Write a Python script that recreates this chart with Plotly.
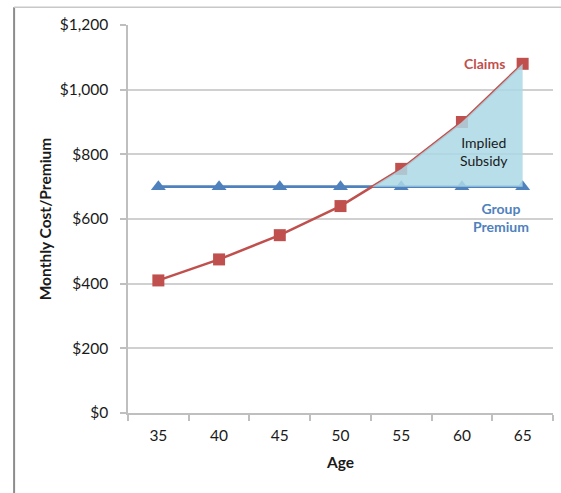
import plotly.graph_objects as go

# Monthly claims cost vs. flat group premium by age
ages = [35, 40, 45, 50, 55, 60, 65]
claims = [410, 475, 550, 640, 755, 900, 1080]
group_premium = [700, 700, 700, 700, 700, 700, 700]
y_ticks = [0, 200, 400, 600, 800, 1000, 1200]

RED = "#c0504d"
BLUE = "#4f81bd"
FONT = "Lato, 'Open Sans', sans-serif"

# Find where claims first rise above the premium (linear interpolation)
cross_x, cross_i = None, None
for i in range(1, len(ages)):
    d0 = claims[i - 1] - group_premium[i - 1]
    d1 = claims[i] - group_premium[i]
    if d0 < 0 <= d1:
        t = -d0 / (d1 - d0)
        cross_x = ages[i - 1] + t * (ages[i] - ages[i - 1])
        cross_y = group_premium[i - 1] + t * (group_premium[i] - group_premium[i - 1])
        cross_i = i
        break

sub_x = [cross_x] + ages[cross_i:] + ages[cross_i:][::-1] + [cross_x]
sub_y = [cross_y] + claims[cross_i:] + group_premium[cross_i:][::-1] + [cross_y]

fig = go.Figure()
fig.add_trace(go.Scatter(
    x=ages, y=group_premium, mode="lines+markers", name="Group Premium",
    line=dict(color=BLUE, width=2.8),
    marker=dict(symbol="triangle-up", size=13, color=BLUE),
))
fig.add_trace(go.Scatter(
    x=ages, y=claims, mode="lines+markers", name="Claims",
    line=dict(color=RED, width=2.5),
    marker=dict(symbol="square", size=12, color=RED),
))
# Implied subsidy region between the two curves
fig.add_trace(go.Scatter(
    x=sub_x, y=sub_y, mode="lines", fill="toself",
    fillcolor="rgba(172,216,229,0.85)", line=dict(width=0),
    hoverinfo="skip",
))

fig.add_annotation(x=63.7, y=1080, text="<b>Claims</b>", showarrow=False,
                   xanchor="right", font=dict(color=RED, size=14, family=FONT))
fig.add_annotation(x=61.8, y=808, text="Implied<br>Subsidy", showarrow=False,
                   font=dict(color="#1a1a1a", size=14, family=FONT))
fig.add_annotation(x=63.2, y=606, text="<b>Group<br>Premium</b>", showarrow=False,
                   font=dict(color=BLUE, size=14, family=FONT))

# Outer chart frame (left and top edges)
fig.add_shape(type="line", xref="paper", yref="paper",
              x0=-0.268, x1=-0.268, y0=-0.3, y1=1.046,
              line=dict(color="#8c8c8c", width=2))
fig.add_shape(type="line", xref="paper", yref="paper",
              x0=-0.268, x1=1.1, y0=1.046, y1=1.046,
              line=dict(color="#c8c8c8", width=1.5))

fig.update_layout(
    width=561, height=493,
    margin=dict(l=128, r=8, t=25, b=80),
    paper_bgcolor="white", plot_bgcolor="white",
    showlegend=False,
    font=dict(family=FONT, size=15.5, color="#1a1a1a"),
)
fig.update_xaxes(
    range=[32.5, 67.5], tickmode="array", tickvals=ages,
    ticktext=[str(a) for a in ages], ticks="", showgrid=False,
    showline=True, linecolor="#bfbfbf", linewidth=1.5,
    ticklabelstandoff=8,
    minor=dict(tick0=32.5, dtick=5, ticks="outside", ticklen=6,
               tickcolor="#bfbfbf", tickwidth=1.5, showgrid=False),
    title=dict(text="<b>Age</b>", font=dict(size=15.5), standoff=14),
    zeroline=False,
)
fig.update_yaxes(
    range=[0, 1200], tickmode="array", tickvals=y_ticks,
    ticktext=[f"${v:,}" for v in y_ticks], ticks="outside", ticklen=6,
    tickcolor="#bfbfbf", tickwidth=1.5,
    showgrid=True, gridcolor="#d0d0d0", gridwidth=1.5,
    showline=True, linecolor="#bfbfbf", linewidth=1.5,
    ticklabelstandoff=9,
    title=dict(text="<b>Monthly Cost/Premium</b>", font=dict(size=15.5), standoff=4),
    zeroline=False,
)

fig.write_html("out.html")
